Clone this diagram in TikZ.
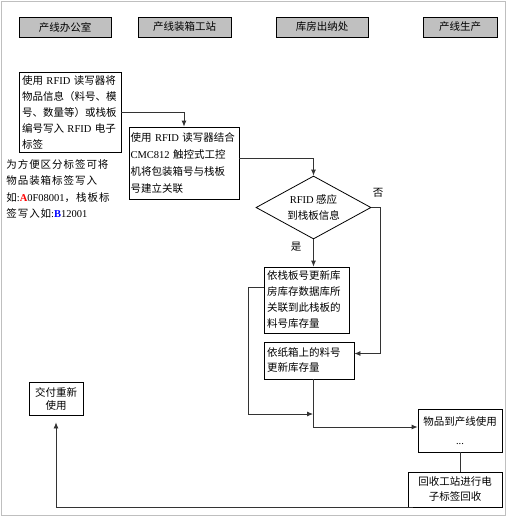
\documentclass[tikz,border=0pt]{standalone}
\usepackage{fontspec}
\setmainfont{Noto Sans CJK SC}
\newfontfamily\lat{Liberation Serif}
\usetikzlibrary{arrows.meta,shapes.geometric}
\definecolor{headgray}{RGB}{192,192,192}

\begin{document}
\begin{tikzpicture}[x=1pt,y=-1pt,line width=0.8pt,>={Latex[length=6pt,width=5pt]},
  font=\fontsize{10.5}{16}\selectfont,
  head/.style={draw,fill=headgray,minimum height=20pt,inner sep=0pt},
  proc/.style={draw,inner sep=3pt,align=left},
  flow/.style={->,black!80}]
\useasboundingbox (0,0) rectangle (507,517);
\draw[black!25] (1,1) rectangle (505,515);
% ---------- lanes ----------
\node[head,minimum width=92pt] (office) at (65,27) {产线办公室};
\node[head,minimum width=93pt] (packst) at (184.5,27) {产线装箱工站};
\node[head,minimum width=92pt] (store) at (322,27) {库房出纳处};
\node[head,minimum width=74pt] (prod) at (460,27) {产线生产};
% ---------- office ----------
\node[proc,text width=96pt,minimum height=80pt] (write) at (70,112)
  {使用 {\lat RFID} 读写器将\\物品信息（料号、模\\号、数量等）或栈板\\编号写入 {\lat RFID} 电子\\标签};
\node[anchor=north west,align=left,inner sep=0pt,font=\fontsize{10.5}{16.5}\selectfont\addfontfeature{LetterSpace=9}] (note) at (6,159)
  {为方便区分标签可将\\物品装箱标签写入\\如{\lat :\textbf{\color{red}A}0F08001}，栈板标\\签写入如{\lat :\textbf{\color{blue}B}12001}};
\node[proc,align=center,text width=48pt,minimum height=33pt,font=\fontsize{10.5}{13}\selectfont] (reuse) at (56,398.5)
  {交付重新\\使用};
% ---------- packing station ----------
\node[proc,inner sep=1.5pt,text width=107pt,minimum height=72pt,font=\fontsize{10.5}{17}\selectfont] (link) at (184,163)
  {使用~{\lat RFID}~读写器结合\\{\lat CMC812} 触控式工控\\机将包装箱号与栈板\\号建立关联};
% ---------- store ----------
\node[draw,diamond,aspect=1.8,inner sep=0pt,minimum width=115pt,minimum height=63pt,align=center] (sense) at (313.5,207.5)
  {{\lat RFID} 感应\\到栈板信息};
\node[proc,text width=79pt,minimum height=66pt] (palupd) at (306.5,300)
  {依栈板号更新库\\房库存数据库所\\关联到此栈板的\\料号库存量};
\node[proc,text width=84pt,minimum height=37pt,font=\fontsize{10.5}{15}\selectfont] (boxupd) at (309,360.5)
  {依纸箱上的料号\\更新库存量};
\node at (378,193) {否};
\node at (296,247) {是};
% ---------- production ----------
\node[proc,align=center,text width=78pt,minimum height=43pt,font=\fontsize{10.5}{19}\selectfont] (use) at (460,430.5)
  {物品到产线使用\\{\lat ...}};
\node[proc,align=center,text width=88pt,minimum height=35pt,font=\fontsize{10.5}{15}\selectfont] (recyc) at (455,489.5)
  {回收工站进行电\\子标签回收};
% ---------- connectors ----------
\coordinate (noin) at ([yshift=7pt]boxupd.east);
\coordinate (palout) at ([yshift=13pt]palupd.west);
\coordinate (merge) at (313,414);
\draw[flow] (write.east) -| (link.north);
\draw[flow] ([yshift=5pt]link.east) -| (sense.north);
\draw[flow] (sense.south) -- (sense.south |- palupd.north);
\draw[flow] (sense.east) -- ++(9,0) |- (noin);
\draw[flow] (palout) -- ++(-15,0) |- (merge);
\draw[flow] (merge |- boxupd.south) |- ([yshift=3.5pt]use.west);
\draw[black!80] (use.south) -- (use.south |- recyc.north);
\draw[flow] ([xshift=5pt]recyc.south west) -| ([yshift=-7pt]reuse.south);
\end{tikzpicture}
\end{document}
